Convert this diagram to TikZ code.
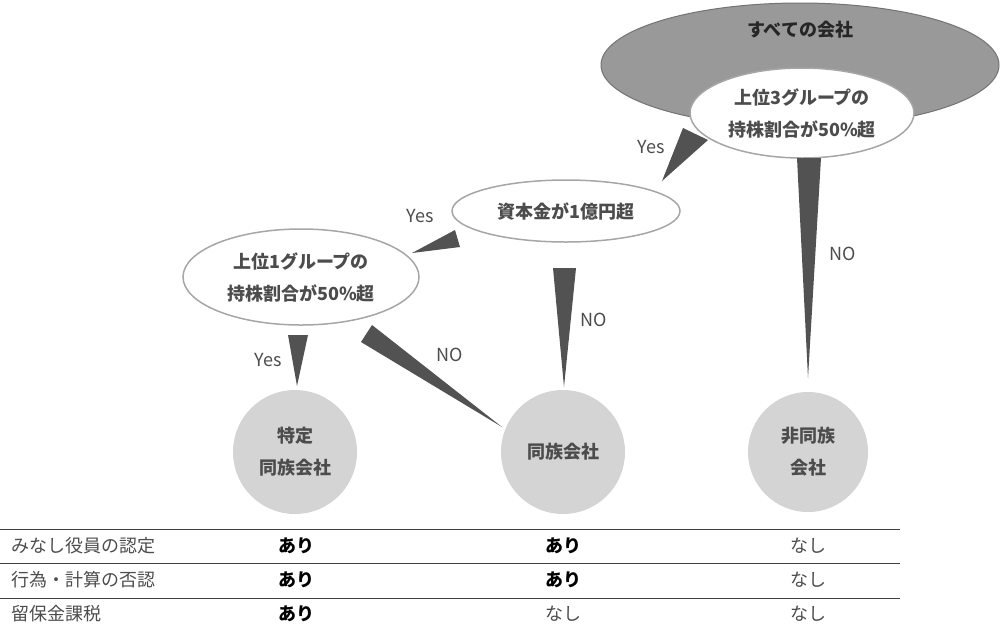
\documentclass[tikz,border=0pt]{standalone}
\usepackage{fontspec}
\setmainfont{Noto Sans CJK JP}
\begin{document}
\begin{tikzpicture}[x=1pt,y=-1pt,
  txt/.style={font=\fontsize{18}{24}\selectfont, text=black!70},
  btxt/.style={font=\fontsize{18}{32}\selectfont\bfseries, text=black!70, align=center},
  qell/.style={draw=black!35, line width=1.5pt, fill=white},
  res/.style={circle, fill=black!17, minimum size=124pt, inner sep=0pt},
  wedge/.style={fill=black!68},
  tline/.style={draw=black!75, line width=1pt}]
\useasboundingbox (0,0) rectangle (1000,641);
% outer ellipse
\draw[fill=black!40, draw=black!55, line width=1pt] (800,65) ellipse [x radius=199, y radius=62];
\node[btxt, text=black!85] (all) at (800,30) {すべての会社};
\draw[qell] (802,113) ellipse [x radius=112, y radius=45];
\node[btxt] (q1) at (802,113) {上位3グループの\\持株割合が50\%超};
\draw[qell] (566,211) ellipse [x radius=114, y radius=31];
\node[btxt] (q2) at (566,211) {資本金が1億円超};
\draw[qell] (301,277) ellipse [x radius=118, y radius=48];
\node[btxt] (q3) at (301,277) {上位1グループの\\持株割合が50\%超};
\node[res] (r1) at (295,452) {};
\node[btxt] at (r1) {特定\\同族会社};
\node[res] (r2) at (563,452) {};
\node[btxt] at (r2) {同族会社};
\node[res, minimum size=120pt] (r3) at (808,452) {};
\node[btxt] at (r3) {非同族\\会社};
% wedges
\coordinate (a1) at (683,128); \coordinate (a2) at (708,140); \coordinate (at) at (662,181);
\fill[wedge] (a1) -- (a2) -- (at) -- cycle;
\coordinate (b1) at (455,230); \coordinate (b2) at (460,247); \coordinate (bt) at (412,253);
\fill[wedge] (b1) -- (b2) -- (bt) -- cycle;
\coordinate (c1) at (553,268); \coordinate (c2) at (576,268); \coordinate (ct) at (564,387);
\fill[wedge] (c1) -- (c2) -- (ct) -- cycle;
\coordinate (d1) at (361,342); \coordinate (d2) at (372,325); \coordinate (dt) at (502,427);
\fill[wedge] (d1) -- (d2) -- (dt) -- cycle;
\coordinate (e1) at (288,335); \coordinate (e2) at (308,335); \coordinate (et) at (297,386);
\fill[wedge] (e1) -- (e2) -- (et) -- cycle;
\coordinate (f1) at (797,158); \coordinate (f2) at (821,158); \coordinate (ft) at (808,378);
\fill[wedge] (f1) -- (f2) -- (ft) -- cycle;
% labels
\node[txt] (l1) at (651,147) {Yes};
\node[txt] (l2) at (420,216) {Yes};
\node[txt] (l3) at (268,360) {Yes};
\node[txt] (l4) at (450,355) {NO};
\node[txt] (l5) at (594,320) {NO};
\node[txt] (l6) at (843,254) {NO};
% table
\coordinate (t0) at (0,529); \coordinate (t0e) at (900,529);
\coordinate (t1) at (0,563); \coordinate (t1e) at (900,563);
\coordinate (t2) at (0,598); \coordinate (t2e) at (900,598);
\draw[tline] (t0) -- (t0e); \draw[tline] (t1) -- (t1e); \draw[tline] (t2) -- (t2e);
\node[txt, anchor=west] (h1) at (8,546) {みなし役員の認定};
\node[txt, anchor=west] (h2) at (8,580) {行為・計算の否認};
\node[txt, anchor=west] (h3) at (8,614) {留保金課税};
\node[btxt, text=black] at (296,546) {あり};
\node[btxt, text=black] at (296,580) {あり};
\node[btxt, text=black] at (296,614) {あり};
\node[btxt, text=black] at (563,546) {あり};
\node[btxt, text=black] at (563,580) {あり};
\node[txt] at (563,614) {なし};
\node[txt] at (808,546) {なし};
\node[txt] at (808,580) {なし};
\node[txt] at (808,614) {なし};
\end{tikzpicture}
\end{document}
